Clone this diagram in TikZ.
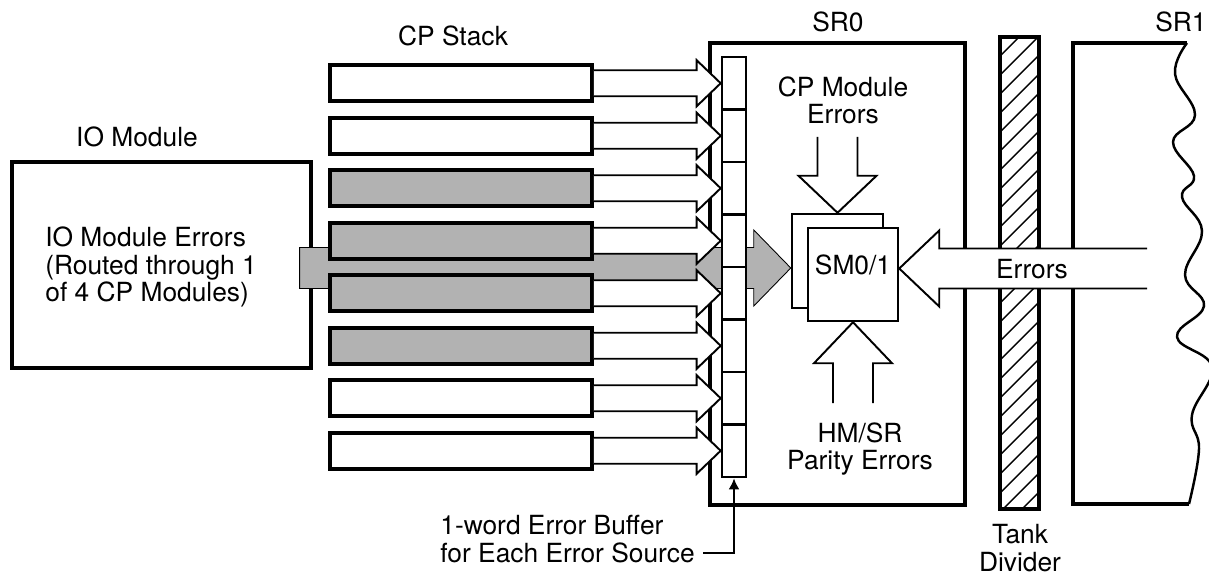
\documentclass[tikz,border=0pt]{standalone}
\usepackage{fontspec}
\setmainfont{TeX Gyre Heros}
\usetikzlibrary{arrows.meta,calc}

\begin{document}
\begin{tikzpicture}[x=0.02cm, y=-0.02cm,
    every node/.style={font=\fontsize{15}{15.5}\selectfont, inner sep=0pt},
    box/.style={draw, line width=1.8pt},
    stackbar/.style={draw, line width=2.1pt, minimum width=262*0.02cm, minimum height=36*0.02cm},
    bufcell/.style={draw, line width=1.5pt, fill=white, minimum width=24*0.02cm, minimum height=52.5*0.02cm},
    blockarrow/.style={draw, fill=white, line width=1.1pt, line join=miter},
    shadearrow/.style={draw, fill=black!30, line width=0.5pt}]
    \useasboundingbox (0,0) rectangle (1209,577);

    % Draw SR0 box
    \node[box, minimum width=255*0.02cm, minimum height=462*0.02cm] (sr0) at (837.5,274) {};
    \node (sr0lbl) at (838,22) {SR0};

    % Draw SM0/1 boxes
    \node[box, line width=1.4pt, fill=white, minimum width=91*0.02cm, minimum height=94*0.02cm] (smback) at (837.5,261) {};
    \node[box, line width=1.4pt, fill=white, minimum width=90*0.02cm, minimum height=93*0.02cm] (sm) at (853,274.5) {};
    \node (smtxt) at (853,265) {SM0/1};

    % Draw IO module
    \node (iolbl) at (137,137) {IO Module};
    \node[box, minimum width=299*0.02cm, minimum height=206*0.02cm] (io) at (161.5,265) {};
    \node[align=left, anchor=west] (iotxt) at (45,267) {IO Module Errors\\(Routed through 1\\of 4 CP Modules)};

    % IO errors go to SM0/1
    \coordinate (ioout) at ($(io.east)+(-13,3)$);
    \coordinate (smin) at ($(smback.west)+(0,7)$);
    \draw[shadearrow] ($(ioout)+(0,-20.5)$) -- ($(smin)+(-37,-20.5)$) -- ($(smin)+(-37,-38)$) -- (smin)
        -- ($(smin)+(-37,38)$) -- ($(smin)+(-37,20.5)$) -- ($(ioout)+(0,20.5)$) -- cycle;

    % Draw CP stack
    \node (cplbl) at (453,36) {CP Stack};
    \foreach \i/\f in {1/white,2/white,3/black!30,4/black!30,5/black!30,6/black!30,7/white,8/white}
        \node[stackbar, fill=\f] (bar\i) at (461,{83.25+52.5*(\i-1)}) {};

    % Draw error buffer
    \foreach \i in {1,...,8}
        \node[bufcell] (cell\i) at (734,{83.25+52.5*(\i-1)}) {};

    % Draw arrows from stack to buffer
    \foreach \i in {1,...,8} {
        \draw[blockarrow] ($(bar\i.east)+(0,-13)$) -- ($(cell\i.west)+(-24,-13)$) -- ($(cell\i.west)+(-24,-23)$)
            -- (cell\i.west) -- ($(cell\i.west)+(-24,23)$) -- ($(cell\i.west)+(-24,13)$) -- ($(bar\i.east)+(0,13)$);
    }

    % Buffer label
    \node[align=left, anchor=west] (buflbl) at (440,539) {1-word Error Buffer\\for Each Error Source};
    \draw[line width=1.5pt, -{Latex[length=0.22cm, width=0.22cm]}] ($(buflbl.east)+(8,14)$) -| (cell8.south);

    % CP module errors
    \node[align=center] (cperr) at (843,100) {CP Module\\Errors};
    \draw[blockarrow] ($(smback.north)+(-20,-76)$) -- ($(smback.north)+(-20,-37)$) -- ($(smback.north)+(-39,-37)$)
        -- (smback.north) -- ($(smback.north)+(39,-37)$) -- ($(smback.north)+(20,-37)$) -- ($(smback.north)+(20,-76)$);

    % HM/SR parity errors
    \node[align=center] (hmerr) at (860,449) {HM/SR\\Parity Errors};
    \draw[blockarrow] ($(sm.south)+(-20,81)$) -- ($(sm.south)+(-20,41)$) -- ($(sm.south)+(-39,41)$)
        -- (sm.south) -- ($(sm.south)+(39,41)$) -- ($(sm.south)+(20,41)$) -- ($(sm.south)+(20,81)$);

    % Draw tank divider
    \begin{scope}
        \clip (1000,37) rectangle (1039,509);
        \foreach \k in {0,...,27}
            \draw[line width=0.8pt] (1000,{37+19*\k}) -- ++(40,-40);
    \end{scope}
    \draw[box] (1000,37) rectangle (1039,509);
    \node[align=center] (tanklbl) at (1020,548) {Tank\\Divider};

    % Draw SR1
    \draw[box] (1189,504) -- (1073,504) -- (1073,43) -- (1187,43);
    \draw[line width=1.4pt] plot[smooth, tension=0.7] coordinates {(1187,43) (1175,74) (1195,115) (1173,142)
        (1194,176) (1182,197) (1202,231) (1185,275) (1204,306) (1177,337) (1212,367) (1192,415) (1199,449) (1189,504)};
    \node (sr1lbl) at (1181,22) {SR1};

    % Errors from SR1
    \coordinate (sr1out) at (1147,268.5);
    \coordinate (smerr) at ($(sm.east)+(0,-6)$);
    \draw[blockarrow] ($(sr1out)+(0,-20)$) -- ($(smerr)+(40,-20)$) -- ($(smerr)+(40,-38)$) -- (smerr)
        -- ($(smerr)+(40,38)$) -- ($(smerr)+(40,20)$) -- ($(sr1out)+(0,20)$);
    \node (errlbl) at (1032,269) {Errors};
\end{tikzpicture}
\end{document}
